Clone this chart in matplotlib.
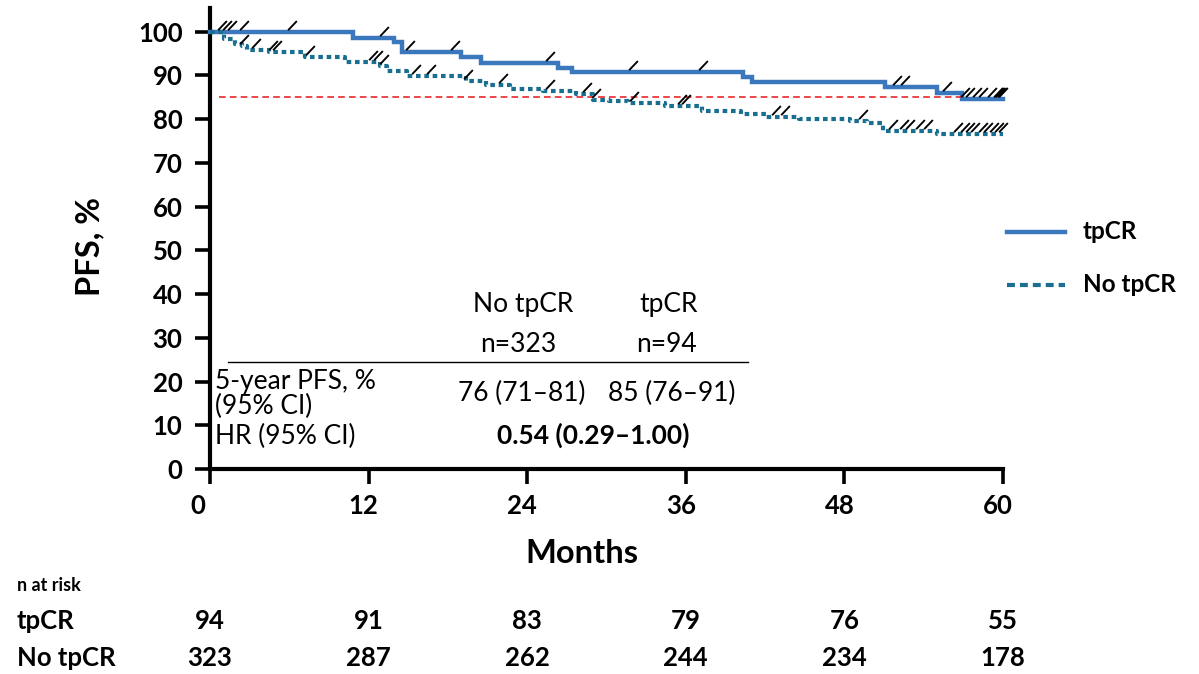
import numpy as np
import matplotlib
matplotlib.use("Agg")
import matplotlib.pyplot as plt
from matplotlib.path import Path
from matplotlib.lines import Line2D
import matplotlib.transforms as mtransforms

# ---------------- data ----------------
tpcr_times = [0, 10.8, 13.9, 14.5, 19.0, 20.5, 26.3, 27.4, 40.3, 41.0, 51.1, 55.0, 56.9]
tpcr_surv = [100, 98.6, 97.6, 95.3, 94.3, 92.8, 91.8, 90.7, 89.7, 88.6, 87.3, 86.0, 84.7]
tpcr_censor = [0.9, 1.3, 1.7, 2.6, 6.2, 13.2, 15.1, 18.5, 25.7, 32.0, 37.3, 52.0, 52.6,
               55.8, 57.1, 57.5, 58.0, 58.5, 59.2, 59.6, 59.7, 59.8, 59.9, 60.0]

no_times = [0, 1.06, 1.9, 2.4, 2.8, 4.5, 7.2, 10.2, 12.9, 13.4, 14.9, 19.4, 20.9, 22.7,
            25.2, 27.7, 29.0, 30.2, 31.6, 34.4, 37.2, 40.2, 42.1, 44.6, 48.4, 49.7, 50.9, 55.0]
no_surv = [100, 98.3, 97.2, 96.8, 95.8, 95.3, 94.1, 93.0, 92.2, 91.1, 89.9, 88.8, 87.9, 86.9,
           86.5, 85.7, 84.4, 84.1, 83.7, 83.1, 81.9, 81.2, 80.5, 80.0, 79.6, 79.0, 77.3, 76.6]
no_censor = [2.6, 3.5, 4.8, 5.1, 7.6, 12.3, 12.7, 13.2, 15.6, 16.7, 19.5, 22.2, 25.7, 28.5,
             29.2, 32.1, 35.7, 36.0, 42.8, 43.5, 49.4, 51.7, 52.5, 53.0, 53.7, 54.3, 56.6,
             57.1, 57.5, 57.9, 58.5, 58.9, 59.3, 59.7, 60.0]

ref_line = 85
ref_start, ref_end = 0.7, 56.9
x_max = 60

x_ticks = [0, 12, 24, 36, 48, 60]
y_ticks = list(range(0, 101, 10))

risk_tpcr = [94, 91, 83, 79, 76, 55]
risk_no = [323, 287, 262, 244, 234, 178]

series_names = ["tpCR", "No tpCR"]
col_no_header = ["No tpCR", "n=323"]
col_tp_header = ["tpCR", "n=94"]
pfs_no = "76 (71\u201381)"
pfs_tp = "85 (76\u201391)"
hr_text = "0.54 (0.29\u20131.00)"

# ---------------- style ----------------
W, H = 1199, 674
FONT = "Lato"
C_TP = "#3A77BC"
C_NO = "#1A6E90"
C_RED = "#E8262B"

fig = plt.figure(figsize=(W / 100, H / 100), dpi=100)
fig.patch.set_facecolor("white")

def fx(x):
    return x / W

def fy(y):
    return 1 - y / H

ax_left, ax_right = 210, 1003
ax_bot, ax_top = 469, 7.6
ax = fig.add_axes([fx(ax_left), fy(ax_bot), (ax_right - ax_left) / W, (ax_bot - ax_top) / H])
ax.set_xlim(0, x_max)
ax.set_ylim(0, 105.5)

for s in ["top", "right"]:
    ax.spines[s].set_visible(False)
for s in ["left", "bottom"]:
    ax.spines[s].set_linewidth(3.0)
ax.spines["left"].set_bounds(0, 105.5)

ax.set_xticks(x_ticks)
ax.set_yticks(y_ticks)
ax.tick_params(axis="both", direction="out", length=10.8, width=2.6, colors="black")
ax.tick_params(axis="y", pad=9)
ax.tick_params(axis="x", pad=7)
for lab in ax.get_yticklabels() + ax.get_xticklabels():
    lab.set_fontfamily(FONT)
    lab.set_fontweight("bold")
    lab.set_fontsize(18.5)
for i, lab in enumerate(ax.get_xticklabels()):
    dx = -12 if i == 0 else -5
    lab.set_transform(lab.get_transform() + mtransforms.ScaledTranslation(dx / 100, 0, fig.dpi_scale_trans))

# curves
def step_xy(times, surv):
    return list(times) + [x_max], list(surv) + [surv[-1]]

xt, yt = step_xy(tpcr_times, tpcr_surv)
ax.step(xt, yt, where="post", color=C_TP, lw=3.2, zorder=3, clip_on=False,
        solid_joinstyle="miter")
xn, yn = step_xy(no_times, no_surv)
ax.step(xn, yn, where="post", color=C_NO, lw=3.0, ls=(0, (1.1, 0.9)), zorder=3,
        clip_on=False)

ax.hlines(ref_line, ref_start, ref_end, colors=C_RED, lw=1.2, linestyles=(0, (4, 2.5)), zorder=4)

# censor marks
slash = Path([(-0.38, 0.2), (0.38, 1.0)], [Path.MOVETO, Path.LINETO])

def surv_at(times, surv, t):
    idx = np.searchsorted(np.array(times), np.array(t), side="right") - 1
    return np.array(surv)[idx]

ax.plot(tpcr_censor, surv_at(tpcr_times, tpcr_surv, tpcr_censor), ls="none", marker=slash,
        ms=16.5, mec="black", mew=1.35, mfc="none", zorder=5, clip_on=False)
ax.plot(no_censor, surv_at(no_times, no_surv, no_censor), ls="none", marker=slash,
        ms=16.5, mec="black", mew=1.35, mfc="none", zorder=5, clip_on=False)

# axis labels
fig.text(fx(90), fy(247), "PFS, %", rotation=90, ha="center", va="center",
         fontfamily=FONT, fontweight="bold", fontsize=23.5)
fig.text(fx(582), fy(563), "Months", ha="center", va="baseline",
         fontfamily=FONT, fontweight="bold", fontsize=23.5)

# legend
fig.add_artist(Line2D([fx(1007), fx(1065)], [fy(232), fy(232)], color=C_TP, lw=3.2,
                      transform=fig.transFigure))
fig.add_artist(Line2D([fx(1007), fx(1065)], [fy(285), fy(285)], color=C_NO, lw=3.0,
                      ls=(0, (1.9, 1.2)), transform=fig.transFigure))
fig.text(fx(1083), fy(239), series_names[0], ha="left", va="baseline",
         fontfamily=FONT, fontweight="bold", fontsize=17.5)
fig.text(fx(1083), fy(292), series_names[1], ha="left", va="baseline",
         fontfamily=FONT, fontweight="bold", fontsize=17.5)

# inner table
TS = 19
fig.text(fx(523), fy(312), col_no_header[0], ha="center", va="baseline", fontfamily=FONT, fontsize=TS)
fig.text(fx(669), fy(312), col_tp_header[0], ha="center", va="baseline", fontfamily=FONT, fontsize=TS)
fig.text(fx(518), fy(352), col_no_header[1], ha="center", va="baseline", fontfamily=FONT, fontsize=TS)
fig.text(fx(666), fy(352), col_tp_header[1], ha="center", va="baseline", fontfamily=FONT, fontsize=TS)
fig.add_artist(Line2D([fx(228), fx(748)], [fy(362), fy(362)], color="black", lw=1.0,
                      transform=fig.transFigure))
fig.text(fx(215), fy(389), "5-year PFS, %", ha="left", va="baseline", fontfamily=FONT, fontsize=TS)
fig.text(fx(215), fy(414), "(95% CI)", ha="left", va="baseline", fontfamily=FONT, fontsize=TS)
fig.text(fx(522), fy(401), pfs_no, ha="center", va="baseline", fontfamily=FONT, fontsize=TS)
fig.text(fx(672), fy(401), pfs_tp, ha="center", va="baseline", fontfamily=FONT, fontsize=TS)
fig.text(fx(215), fy(444), "HR (95% CI)", ha="left", va="baseline", fontfamily=FONT, fontsize=TS)
fig.text(fx(593), fy(444), hr_text, ha="center", va="baseline", fontfamily=FONT,
         fontsize=TS, fontweight="bold")

# risk table
fig.text(fx(17), fy(591), "n at risk", ha="left", va="baseline", fontfamily=FONT,
         fontweight="bold", fontsize=13)
fig.text(fx(17), fy(629), series_names[0], ha="left", va="baseline", fontfamily=FONT,
         fontweight="bold", fontsize=18.5)
fig.text(fx(17), fy(666), series_names[1], ha="left", va="baseline", fontfamily=FONT,
         fontweight="bold", fontsize=18.5)
blend = mtransforms.blended_transform_factory(ax.transData, fig.transFigure)
for t, a, b in zip(x_ticks, risk_tpcr, risk_no):
    fig.text(t, fy(629), str(a), ha="center", va="baseline", transform=blend,
             fontfamily=FONT, fontweight="bold", fontsize=18.5)
    fig.text(t, fy(666), str(b), ha="center", va="baseline", transform=blend,
             fontfamily=FONT, fontweight="bold", fontsize=18.5)

fig.savefig("out.png", dpi=100, facecolor="white")
